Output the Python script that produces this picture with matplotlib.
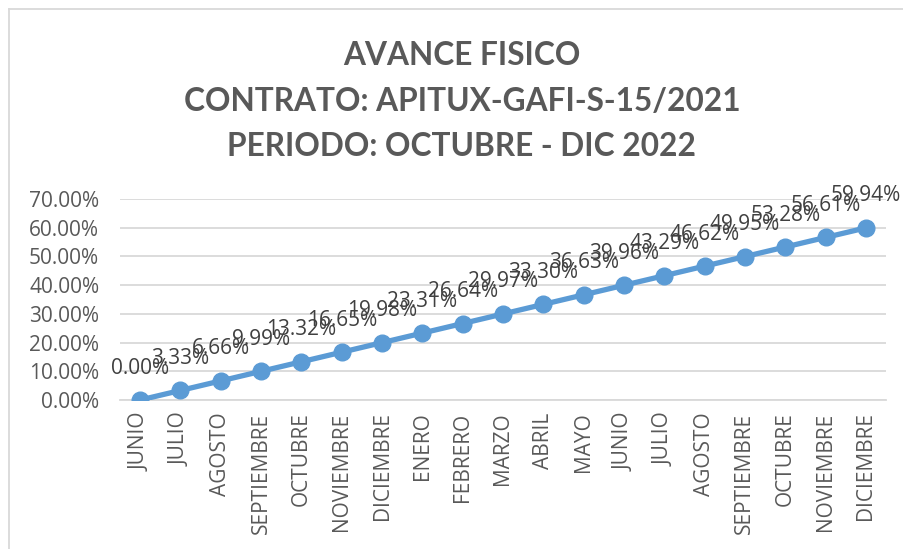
import matplotlib
matplotlib.use('Agg')
import matplotlib.pyplot as plt
from matplotlib.lines import Line2D

meses = ['JUNIO', 'JULIO', 'AGOSTO', 'SEPTIEMBRE', 'OCTUBRE', 'NOVIEMBRE',
         'DICIEMBRE', 'ENERO', 'FEBRERO', 'MARZO', 'ABRIL', 'MAYO', 'JUNIO',
         'JULIO', 'AGOSTO', 'SEPTIEMBRE', 'OCTUBRE', 'NOVIEMBRE', 'DICIEMBRE']
avance = [0.00, 3.33, 6.66, 9.99, 13.32, 16.65, 19.98, 23.31, 26.64, 29.97,
          33.30, 36.63, 39.96, 43.29, 46.62, 49.95, 53.28, 56.61, 59.94]
yticks = [0, 10, 20, 30, 40, 50, 60, 70]
titulo = 'AVANCE FISICO\nCONTRATO: APITUX-GAFI-S-15/2021\nPERIODO: OCTUBRE - DIC 2022'

gris = '#595959'
azul = '#5B9BD5'
plt.rcParams['font.family'] = ['Open Sans', 'DejaVu Sans']

fig = plt.figure(figsize=(9.04, 5.49), dpi=100)
ax = fig.add_axes([120 / 904, 1 - 400 / 549, (886 - 120) / 904, 201 / 549])

x = list(range(len(meses)))
ax.plot(x, avance, color=azul, lw=3.8, marker='o', ms=12, zorder=3)
for xi, v in zip(x, avance):
    ax.annotate('{:.2f}%'.format(v), (xi, v), xytext=(0, 23), textcoords='offset points',
                ha='center', va='center', fontsize=15, color='#404040', zorder=4)

ax.set_xlim(-0.5, len(meses) - 0.5)
ax.set_ylim(0, 70)
ax.set_yticks(yticks)
ax.set_yticklabels(['{:.2f}%'.format(t) for t in yticks])
ax.set_xticks(x)
ax.set_xticklabels(meses, rotation=90)
ax.tick_params(axis='both', length=0, labelsize=15, labelcolor=gris)
ax.tick_params(axis='y', pad=15)
ax.tick_params(axis='x', pad=9)
ax.grid(axis='y', color='#D9D9D9', lw=1.3)
ax.set_axisbelow(True)
for s in ['top', 'right', 'left']:
    ax.spines[s].set_visible(False)
ax.spines['bottom'].set_color('#D9D9D9')
ax.spines['bottom'].set_linewidth(1.3)

fig.text(462 / 904, 1 - 101 / 549, titulo, ha='center', va='center', fontsize=22.8,
         fontweight='bold', color=gris, linespacing=1.7, family=['Lato', 'DejaVu Sans'])

# borde del area del grafico
fig.add_artist(Line2D([9 / 904, 1], [1 - 9 / 549, 1 - 9 / 549], color='#D9D9D9', lw=1.3))
fig.add_artist(Line2D([9 / 904, 9 / 904], [0, 1 - 9 / 549], color='#D9D9D9', lw=1.3))

fig.savefig('out.png', dpi=100)
